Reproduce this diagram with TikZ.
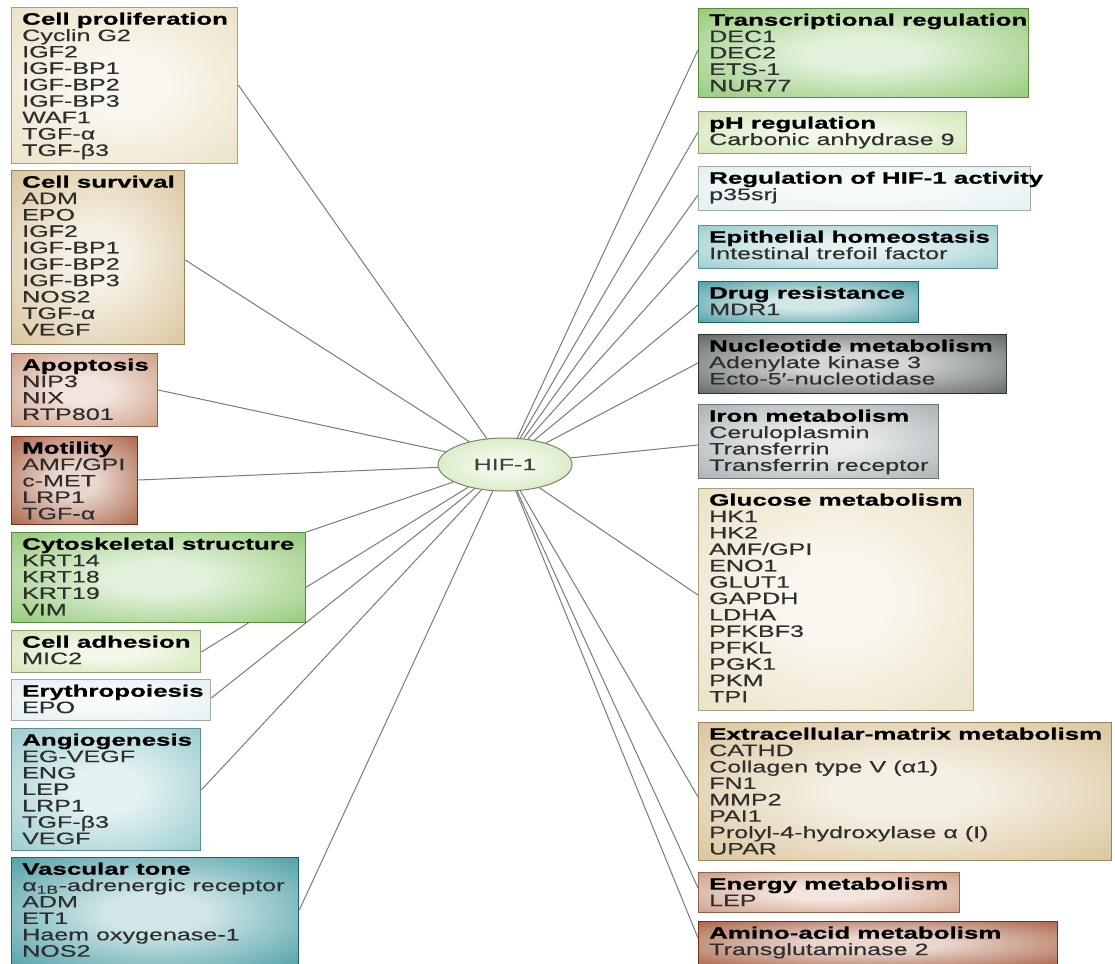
\documentclass[tikz,border=0pt]{standalone}
\usepackage{fontspec}
\setmainfont{Liberation Sans}[FakeStretch=1.52, FakeBold=0.35, BoldFeatures={FakeStretch=1.57, FakeBold=0.9}]
\usetikzlibrary{shapes.geometric}
\definecolor{cbeige}{HTML}{E8DBBA}
\definecolor{ctan}{HTML}{D2B986}
\definecolor{csalmon}{HTML}{C5896A}
\definecolor{cbrown}{HTML}{9A4522}
\definecolor{cgreen}{HTML}{7DBF5B}
\definecolor{cpgreen}{HTML}{C8E0A4}
\definecolor{cpblue}{HTML}{DDECEE}
\definecolor{clteal}{HTML}{84C2C5}
\definecolor{cteal}{HTML}{2A8C93}
\definecolor{cdgray}{HTML}{3E4546}
\definecolor{cmgray}{HTML}{98A1A4}
\definecolor{chif}{HTML}{C5E0A6}
\definecolor{clink}{HTML}{7A7A7A}
\makeatletter
\pgfdeclareradialshading[tikz@radial@inner,tikz@radial@outer]{softglow}{\pgfpoint{0bp}{0bp}}{%
  color(0bp)=(tikz@radial@inner); color(9bp)=(tikz@radial@inner);
  color(44bp)=(tikz@radial@outer); color(50bp)=(tikz@radial@outer)}
\makeatother
\pgfdeclarelayer{back}
\pgfdeclarelayer{links}
\pgfsetlayers{back,links,main}
\newcommand\hd[1]{{\color{black}\bfseries #1}}
\newcommand\gbox[7]{%
  \node[gbox, minimum width=#4pt, minimum height=#5pt, draw=#6!72!black,
        inner color=#6!22!white, outer color=#6, shading=softglow] (#1) at (#2,#3) {};
  \node[gtext] at ([xshift=11pt,yshift=-5.5pt]#1.north west) {#7};
}
\begin{document}
\begin{tikzpicture}[x=1pt, y=-1pt,
  gbox/.style={rectangle, anchor=north west, inner sep=0pt, line width=1.3pt},
  gtext/.style={anchor=north west, inner sep=0pt, align=left, text=black!82,
        font=\fontsize{16.5}{16.4}\selectfont},
  hifnode/.style={ellipse, minimum width=134pt, minimum height=53pt, inner sep=0pt,
        draw=chif!60!black, line width=1pt, inner color=chif!25!white, outer color=chif,
        shading=softglow, text=black!75, font=\fontsize{16.5}{16.4}\selectfont},
  link/.style={draw=clink, line width=1pt}]
\begin{pgfonlayer}{back}
\fill[white] (0,0) rectangle (1115,963);
\end{pgfonlayer}
\useasboundingbox (0,0) rectangle (1115,963);

\node[hifnode] (hif) at (505,464.5) {HIF-1};

% left column
\gbox{cp}{11}{7}{226}{156}{cbeige}{\hd{Cell proliferation}\\Cyclin G2\\IGF2\\IGF-BP1\\IGF-BP2\\IGF-BP3\\WAF1\\TGF-α\\TGF-β3}
\gbox{cs}{11}{170}{173}{174}{ctan}{\hd{Cell survival}\\ADM\\EPO\\IGF2\\IGF-BP1\\IGF-BP2\\IGF-BP3\\NOS2\\TGF-α\\VEGF}
\gbox{ap}{11}{353}{146}{73}{csalmon}{\hd{Apoptosis}\\NIP3\\NIX\\RTP801}
\gbox{mo}{11}{436}{126}{88}{cbrown}{\hd{Motility}\\AMF/GPI\\c-MET\\LRP1\\TGF-α}
\gbox{cy}{11}{532}{294}{90}{cgreen}{\hd{Cytoskeletal structure}\\KRT14\\KRT18\\KRT19\\VIM}
\gbox{ca}{11}{630}{189}{42}{cpgreen}{\hd{Cell adhesion}\\MIC2}
\gbox{er}{11}{679}{199}{41}{cpblue}{\hd{Erythropoiesis}\\EPO}
\gbox{an}{11}{728}{189}{122}{clteal}{\hd{Angiogenesis}\\EG-VEGF\\ENG\\LEP\\LRP1\\TGF-β3\\VEGF}
\gbox{vt}{11}{857}{287}{110}{cteal}{\hd{Vascular tone}\\α\textsubscript{1B}-adrenergic receptor\\ADM\\ET1\\Haem oxygenase-1\\NOS2}

% right column
\gbox{tr}{698}{8}{330}{89}{cgreen}{\hd{Transcriptional regulation}\\DEC1\\DEC2\\ETS-1\\NUR77}
\gbox{ph}{698}{111}{268}{42}{cpgreen}{\hd{pH regulation}\\Carbonic anhydrase 9}
\gbox{rh}{698}{166}{332}{44}{cpblue}{\hd{Regulation of HIF-1 activity}\\p35srj}
\gbox{ep}{698}{225}{299}{43}{clteal}{\hd{Epithelial homeostasis}\\Intestinal trefoil factor}
\gbox{dr}{698}{281}{220}{41}{cteal}{\hd{Drug resistance}\\MDR1}
\gbox{nu}{698}{334}{308}{59}{cdgray}{\hd{Nucleotide metabolism}\\Adenylate kinase 3\\Ecto-5′-nucleotidase}
\gbox{ir}{698}{404}{240}{74}{cmgray}{\hd{Iron metabolism}\\Ceruloplasmin\\Transferrin\\Transferrin receptor}
\gbox{gl}{698}{488}{275}{222}{cbeige}{\hd{Glucose metabolism}\\HK1\\HK2\\AMF/GPI\\ENO1\\GLUT1\\GAPDH\\LDHA\\PFKBF3\\PFKL\\PGK1\\PKM\\TPI}
\gbox{ec}{698}{722}{413}{138}{ctan}{\hd{Extracellular-matrix metabolism}\\CATHD\\Collagen type V (α1)\\FN1\\MMP2\\PAI1\\Prolyl-4-hydroxylase α (I)\\UPAR}
\gbox{en}{698}{872}{261}{40}{csalmon}{\hd{Energy metabolism}\\LEP}
\gbox{aa}{698}{921}{359}{44}{cbrown}{\hd{Amino-acid metabolism}\\Transglutaminase 2}

\begin{pgfonlayer}{links}
\draw[link] ([yshift=-78pt]cp.north east) -- (hif);
\draw[link] ([yshift=-90pt]cs.north east) -- (hif);
\draw[link] ([yshift=-37pt]ap.north east) -- (hif);
\draw[link] ([yshift=-44pt]mo.north east) -- (hif);
\draw[link] (cy.north east) -- (hif);
\draw[link] ([yshift=-22pt]ca.north east) -- (hif);
\draw[link] ([yshift=-19pt]er.north east) -- (hif);
\draw[link] ([yshift=-62pt]an.north east) -- (hif);
\draw[link] ([yshift=-53pt]vt.north east) -- (hif);
\draw[link] ([yshift=-42pt]tr.north west) -- (hif);
\draw[link] ([yshift=-21pt]ph.north west) -- (hif);
\draw[link] ([yshift=-29pt]rh.north west) -- (hif);
\draw[link] ([yshift=-25pt]ep.north west) -- (hif);
\draw[link] ([yshift=-24pt]dr.north west) -- (hif);
\draw[link] ([yshift=-29pt]nu.north west) -- (hif);
\draw[link] ([yshift=-41pt]ir.north west) -- (hif);
\draw[link] ([yshift=-107pt]gl.north west) -- (hif);
\draw[link] ([yshift=-75pt]ec.north west) -- (hif);
\draw[link] ([yshift=-16pt]en.north west) -- (hif);
\draw[link] ([yshift=-17pt]aa.north west) -- (hif);
\end{pgfonlayer}
\end{tikzpicture}
\end{document}
